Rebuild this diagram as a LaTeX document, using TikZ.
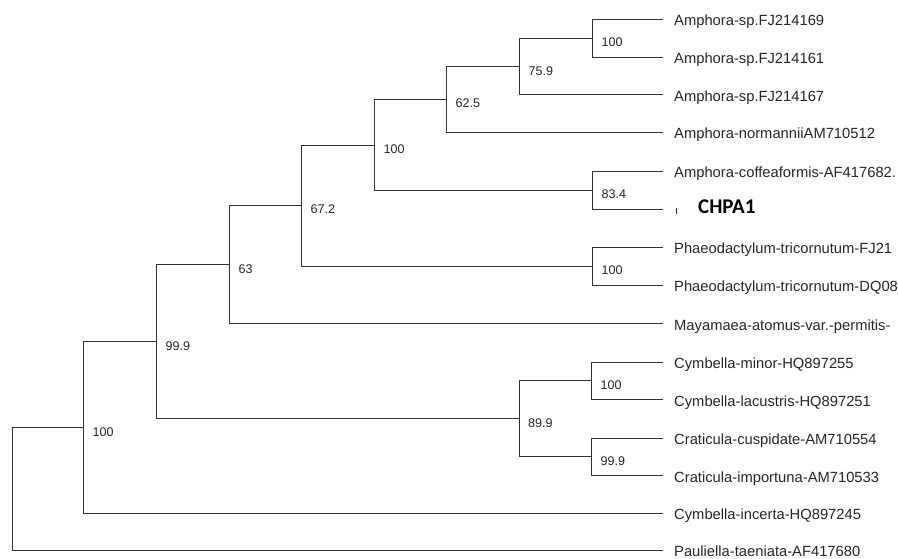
\documentclass[tikz,border=0pt]{standalone}
\usepackage{fontspec}
\setmainfont{Liberation Sans}
\newfontfamily\calfont{Carlito}
\begin{document}
\begin{tikzpicture}[x=1bp,y=-1bp,
  branch/.style={draw=black!80,line width=1bp},
  leaf/.style={anchor=base west,inner sep=0pt,font=\fontsize{14.8}{17}\selectfont,text=black!85},
  boot/.style={anchor=base west,inner sep=0pt,font=\fontsize{12.6}{15}\selectfont,text=black!85},
  marker/.style={anchor=base west,inner sep=0pt,font=\calfont\bfseries\fontsize{21}{24}\selectfont}]
\useasboundingbox (0,0) rectangle (898,559);
% leaf tips
\coordinate (t1) at (662.5,19.5);
\coordinate (t2) at (662.5,57.5);
\coordinate (t3) at (662.5,94.5);
\coordinate (t4) at (662.5,132.5);
\coordinate (t5) at (662.5,171.5);
\coordinate (t6) at (662.5,209.5);
\coordinate (t7) at (662.5,247.5);
\coordinate (t8) at (662.5,285.5);
\coordinate (t9) at (662.5,323.5);
\coordinate (t10) at (662.5,362.5);
\coordinate (t11) at (662.5,399.5);
\coordinate (t12) at (662.5,438.5);
\coordinate (t13) at (662.5,475.5);
\coordinate (t14) at (662.5,513.5);
\coordinate (t15) at (662.5,550.5);
% internal nodes
\coordinate (A) at (592.5,38.5);
\coordinate (B) at (519.5,66.5);
\coordinate (C) at (446.5,99.5);
\coordinate (E) at (592.5,190.5);
\coordinate (D) at (374.5,145.5);
\coordinate (G) at (592.5,266.5);
\coordinate (F) at (301.5,205.5);
\coordinate (H) at (229.5,264.5);
\coordinate (K) at (591.5,380.5);
\coordinate (L) at (591.5,456.5);
\coordinate (J) at (519.5,418.5);
\coordinate (I) at (156.5,341.5);
\coordinate (R1) at (83.5,427.5);
\coordinate (R) at (12.5,488.5);
% branches
\draw[branch] (A) |- (t1); \draw[branch] (A) |- (t2);
\draw[branch] (B) |- (A);  \draw[branch] (B) |- (t3);
\draw[branch] (C) |- (B);  \draw[branch] (C) |- (t4);
\draw[branch] (E) |- (t5); \draw[branch] (E) |- (t6);
\draw[branch] (D) |- (C);  \draw[branch] (D) |- (E);
\draw[branch] (G) |- (t7); \draw[branch] (G) |- (t8);
\draw[branch] (F) |- (D);  \draw[branch] (F) |- (G);
\draw[branch] (H) |- (F);  \draw[branch] (H) |- (t9);
\draw[branch] (K) |- (t10); \draw[branch] (K) |- (t11);
\draw[branch] (L) |- (t12); \draw[branch] (L) |- (t13);
\draw[branch] (J) |- (K);  \draw[branch] (J) |- (L);
\draw[branch] (I) |- (H);  \draw[branch] (I) |- (J);
\draw[branch] (R1) |- (I); \draw[branch] (R1) |- (t14);
\draw[branch] (R) |- (R1); \draw[branch] (R) |- (t15);
% bootstrap values
\node[boot] (bA) at (601.5,46.8) {100};
\node[boot] (bB) at (528.5,75.5) {75.9};
\node[boot] (bC) at (455.5,107.5) {62.5};
\node[boot] (bE) at (601.5,199) {83.4};
\node[boot] (bD) at (383.5,153.5) {100};
\node[boot] (bG) at (601.5,274.8) {100};
\node[boot] (bF) at (310.5,214) {67.2};
\node[boot] (bH) at (238.5,273.2) {63};
\node[boot] (bK) at (600.5,389.5) {100};
\node[boot] (bL) at (600.5,465.5) {99.9};
\node[boot] (bJ) at (528,427.5) {89.9};
\node[boot] (bI) at (165.5,350.4) {99.9};
\node[boot] (bR1) at (92.5,436.5) {100};
% leaf labels
\node[leaf] (l1) at (674,25.8) {Amphora-sp.FJ214169};
\node[leaf] (l2) at (674,63.8) {Amphora-sp.FJ214161};
\node[leaf] (l3) at (674,101.3) {Amphora-sp.FJ214167};
\node[leaf] (l4) at (674,138.8) {Amphora-normanniiAM710512};
\node[leaf] (l5) at (674,177.8) {Amphora-coffeaformis-AF417682.};
\node[leaf] (l7) at (674,253.8) {Phaeodactylum-tricornutum-FJ21};
\node[leaf] (l8) at (674,291.8) {Phaeodactylum-tricornutum-DQ08};
\node[leaf] (l9) at (674,330.3) {Mayamaea-atomus-var.-permitis-};
\node[leaf] (l10) at (674,368.5) {Cymbella-minor-HQ897255};
\node[leaf] (l11) at (674,406) {Cymbella-lacustris-HQ897251};
\node[leaf] (l12) at (674,444.5) {Craticula-cuspidate-AM710554};
\node[leaf] (l13) at (674,482) {Craticula-importuna-AM710533};
\node[leaf] (l14) at (674,519.5) {Cymbella-incerta-HQ897245};
\node[leaf] (l15) at (674,556.5) {Pauliella-taeniata-AF417680};
% CHPA1 leaf: small tick and bold label
\draw[black!85,line width=1bp] (676.5,208.5) -- (676.5,214.5);
\node[marker] (l6) at (698,213.5) {CHPA1};
\end{tikzpicture}
\end{document}
